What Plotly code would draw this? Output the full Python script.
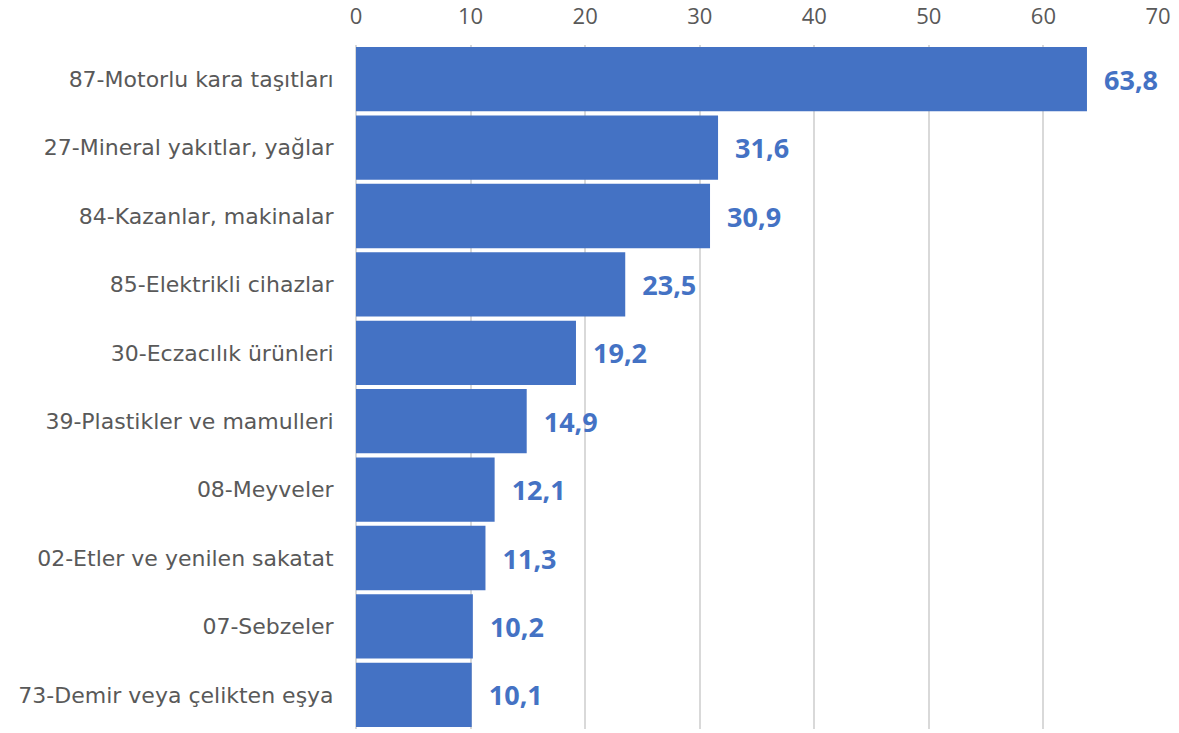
import plotly.graph_objects as go

categories = ["87-Motorlu kara taşıtları", "27-Mineral yakıtlar, yağlar", "84-Kazanlar, makinalar",
              "85-Elektrikli cihazlar", "30-Eczacılık ürünleri", "39-Plastikler ve mamulleri",
              "08-Meyveler", "02-Etler ve yenilen sakatat", "07-Sebzeler", "73-Demir veya çelikten eşya"]
values = [63.8, 31.6, 30.9, 23.5, 19.2, 14.9, 12.1, 11.3, 10.2, 10.1]
tick_vals = [0, 10, 20, 30, 40, 50, 60, 70]

labels = ["  " + f"{v:.1f}".replace(".", ",") for v in values]

fig = go.Figure(go.Bar(
    x=values, y=categories, orientation="h",
    marker=dict(color="#4472C4", line=dict(width=0)),
    text=labels, textposition="outside", cliponaxis=False, constraintext="none",
    textfont=dict(family="Open Sans", size=27, color="#4472C4", weight="bold"),
    hoverinfo="none",
))
fig.update_layout(
    width=1179, height=733,
    margin=dict(l=356, r=21, t=45, b=4),
    paper_bgcolor="white", plot_bgcolor="white",
    bargap=0.06, showlegend=False,
    font=dict(family="DejaVu Sans", color="#595959", size=22),
    xaxis=dict(side="top", range=[0, 70], tickvals=tick_vals, showgrid=True, automargin=False,
               gridcolor="#D9D9D9", gridwidth=1.5, zeroline=True, zerolinecolor="#D9D9D9",
               zerolinewidth=1.5, tickfont=dict(family="Open Sans", size=22, color="#595959"),
               ticks="outside", ticklen=11, tickcolor="white"),
    yaxis=dict(autorange="reversed", tickfont=dict(family="DejaVu Sans", size=22, color="#595959"),
               ticks="outside", ticklen=17, tickcolor="white", showgrid=False, automargin=False),
)
fig.write_html("out.html", post_script="document.body.style.margin='0px';",
               config={"displayModeBar": False})
